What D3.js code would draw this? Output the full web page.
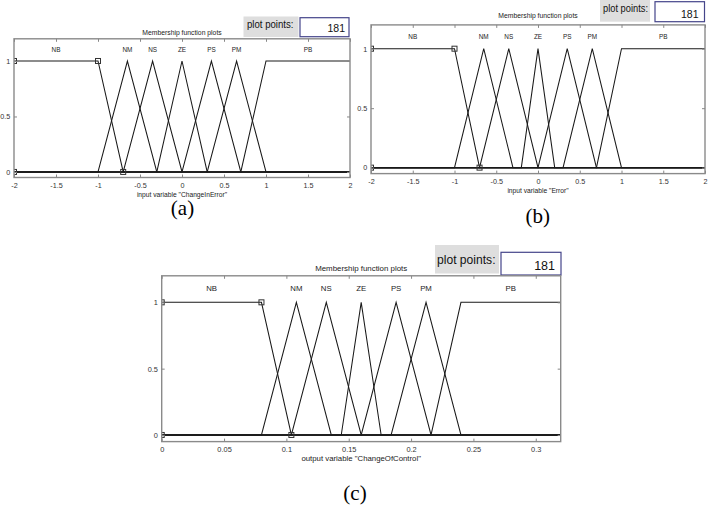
<!DOCTYPE html>
<html>
<head>
<meta charset="utf-8">
<script src="https://cdn.jsdelivr.net/npm/d3@7"></script>
<style>
  html, body { margin: 0; padding: 0; background: #fff; }
  svg { display: block; }
</style>
</head>
<body>
<svg id="chart" width="708" height="507"></svg>
<script>
// ---------------- DATA ----------------
const mfNames = ["NB", "NM", "NS", "ZE", "PS", "PM", "PB"];
// (a) input variable "ChangeInError"
const mfParamsA = [[-2, -2, -1, -0.7], [-1, -0.65, -0.3], [-0.7, -0.35, 0], [-0.3, 0, 0.3], [0, 0.35, 0.7], [0.3, 0.65, 1], [0.7, 1, 2, 2]];
// (b) input variable "Error"
const mfParamsB = [[-2, -2, -1, -0.7], [-1, -0.65, -0.3], [-0.7, -0.35, 0], [-0.2, 0, 0.2], [0, 0.35, 0.7], [0.3, 0.65, 1], [0.7, 1, 2, 2]];
// (c) output variable "ChangeOfControl"
const mfParamsC = [[0, 0, 0.08, 0.104], [0.08, 0.108, 0.136], [0.104, 0.132, 0.16], [0.144, 0.16, 0.176], [0.16, 0.188, 0.216], [0.184, 0.212, 0.24], [0.216, 0.24, 0.32, 0.32]];
const rangeAB = [-2, 2];
const rangeC = [0, 0.32];
const xTicksAB = [-2, -1.5, -1, -0.5, 0, 0.5, 1, 1.5, 2];
const xTickLabelsAB = ["-2", "-1.5", "-1", "-0.5", "0", "0.5", "1", "1.5", "2"];
const xTicksC = [0, 0.05, 0.1, 0.15, 0.2, 0.25, 0.3];
const xTickLabelsC = ["0", "0.05", "0.1", "0.15", "0.2", "0.25", "0.3"];
const yTicks = [0, 0.5, 1];
const yTickLabels = ["0", "0.5", "1"];
const yDomain = [-0.05, 1.2];
const plotPoints = "181";
const titleText = "Membership function plots";
const xLabels = ['input variable "ChangeInError"', 'input variable "Error"', 'output variable "ChangeOfControl"'];
const captions = ["(a)", "(b)", "(c)"];

// ---------------- LAYOUT ----------------
const panels = [
  { params: mfParamsA, range: rangeAB, ticks: xTicksAB, tickLabels: xTickLabelsAB, xlabel: xLabels[0], caption: captions[0],
    box: { l: 14, r: 350, t: 38.8, b: 177.5 }, fs: { title: 6.8, tick: 7.2, mf: 6.4, xl: 6.7 },
    pp: { gx: 243.5, gy: 16.5, gw: 55, gh: 20.5, tx: 247, ty: 28.3, tw: 46.5, tfs: 10.5, wx: 300, wy: 17.7, ww: 49, wh: 19, nx: 345, ny: 32.3, nfs: 10.5 },
    titleY: 34.5, cap: { x: 182.5, y: 215 } },
  { params: mfParamsB, range: rangeAB, ticks: xTicksAB, tickLabels: xTickLabelsAB, xlabel: xLabels[1], caption: captions[1],
    box: { l: 371, r: 705, t: 24.9, b: 173.6 }, fs: { title: 6.8, tick: 7.2, mf: 6.4, xl: 6.7 },
    pp: { gx: 600, gy: 0, gw: 50, gh: 21.7, tx: 603, ty: 11.5, tw: 45, tfs: 10.5, wx: 655, wy: 1.7, ww: 49.5, wh: 20, nx: 698.5, ny: 18.3, nfs: 10.5 },
    titleY: 18, cap: { x: 537.7, y: 223 } },
  { params: mfParamsC, range: rangeC, ticks: xTicksC, tickLabels: xTickLabelsC, xlabel: xLabels[2], caption: captions[2],
    box: { l: 161.7, r: 560.7, t: 275.8, b: 441.6 }, fs: { title: 7.9, tick: 7.4, mf: 7.8, xl: 7.8 },
    pp: { gx: 435, gy: 245, gw: 64, gh: 28.5, tx: 437, ty: 263.5, tw: 58.5, tfs: 12.5, wx: 501, wy: 252.3, ww: 60, wh: 22.7, nx: 555, ny: 269.5, nfs: 12.5 },
    titleY: 271, cap: { x: 355, y: 500 } }
];

const svg = d3.select("#chart");
const sansFont = "Arial, 'Liberation Sans', sans-serif";
const serifFont = "'Times New Roman', 'Liberation Serif', serif";

function mu(p, x) {
  let a, b, c, d;
  if (p.length === 3) { a = p[0]; b = p[1]; c = p[1]; d = p[2]; }
  else { [a, b, c, d] = p; }
  let left = (b === a) ? (x >= a ? 1 : 0) : (x - a) / (b - a);
  let right = (d === c) ? (x <= d ? 1 : 0) : (d - x) / (d - c);
  return Math.max(0, Math.min(left, 1, right));
}

panels.forEach((P, idx) => {
  const g = svg.append("g");
  const x = d3.scaleLinear().domain(P.range).range([P.box.l, P.box.r]);
  const y = d3.scaleLinear().domain(yDomain).range([P.box.b, P.box.t]);

  const clipId = "clip" + idx;
  g.append("clipPath").attr("id", clipId).append("rect")
    .attr("x", P.box.l).attr("y", P.box.t)
    .attr("width", P.box.r - P.box.l).attr("height", P.box.b - P.box.t);

  // "plot points" widget
  g.append("rect").attr("x", P.pp.gx).attr("y", P.pp.gy).attr("width", P.pp.gw).attr("height", P.pp.gh)
    .attr("fill", "#dedede");
  g.append("text").attr("x", P.pp.tx).attr("y", P.pp.ty)
    .attr("font-family", sansFont).attr("font-size", P.pp.tfs).attr("fill", "#111")
    .attr("textLength", P.pp.tw).attr("lengthAdjust", "spacingAndGlyphs")
    .text("plot points:");
  g.append("rect").attr("x", P.pp.wx).attr("y", P.pp.wy).attr("width", P.pp.ww).attr("height", P.pp.wh)
    .attr("fill", "#fff").attr("stroke", "#45458a").attr("stroke-width", 1.2);
  g.append("text").attr("x", P.pp.nx).attr("y", P.pp.ny).attr("text-anchor", "end")
    .attr("font-family", sansFont).attr("font-size", P.pp.nfs).attr("fill", "#111")
    .text(plotPoints);

  // title
  g.append("text").attr("x", (P.box.l + P.box.r) / 2).attr("y", P.titleY)
    .attr("text-anchor", "middle").attr("font-family", sansFont).attr("font-size", P.fs.title).attr("fill", "#222")
    .text(titleText);

  // MF lines
  const line = d3.line().x(d => x(d[0])).y(d => y(d[1]));
  const plotG = g.append("g").attr("clip-path", `url(#${clipId})`);
  P.params.forEach((p) => {
    const xs = Array.from(new Set([P.range[0], ...p, P.range[1]])).sort((a, b) => a - b);
    const pts = [];
    xs.forEach(xv => {
      // handle vertical edges at domain bounds for shoulders
      pts.push([xv, mu(p, xv)]);
    });
    plotG.append("path").attr("d", line(pts))
      .attr("fill", "none").attr("stroke", "#1a1a1a").attr("stroke-width", 1.05);
  });

  // markers on the selected MF (NB)
  const sel = P.params[0];
  const markerPts = [[sel[0], 0], [sel[1], 1], [sel[2], 1], [sel[3], 0]];
  plotG.selectAll("rect.mk").data(markerPts).enter().append("rect")
    .attr("x", d => x(d[0]) - 2.5).attr("y", d => y(d[1]) - 2.5)
    .attr("width", 5).attr("height", 5)
    .attr("fill", "none").attr("stroke", "#333").attr("stroke-width", 1);

  // MF labels
  P.params.forEach((p, i) => {
    const peak = p.length === 3 ? p[1] : (p[1] + p[2]) / 2;
    g.append("text").attr("x", x(peak)).attr("y", y(1.1) + 2)
      .attr("text-anchor", "middle").attr("font-family", sansFont).attr("font-size", P.fs.mf).attr("fill", "#222")
      .text(mfNames[i]);
  });

  // axes box
  g.append("rect").attr("x", P.box.l).attr("y", P.box.t)
    .attr("width", P.box.r - P.box.l).attr("height", P.box.b - P.box.t)
    .attr("fill", "none").attr("stroke", "#8a8a8a").attr("stroke-width", 1.4);

  // x ticks (bottom & top, inward)
  const xAxisB = d3.axisBottom(x).tickValues(P.ticks).tickSize(-3).tickPadding(6)
    .tickFormat((d, i) => P.tickLabels[i]);
  const gxb = g.append("g").attr("transform", `translate(0,${P.box.b})`).call(xAxisB);
  const xAxisT = d3.axisTop(x).tickValues(P.ticks).tickSize(-3).tickFormat("");
  const gxt = g.append("g").attr("transform", `translate(0,${P.box.t})`).call(xAxisT);
  // y ticks (left & right, inward)
  const yAxisL = d3.axisLeft(y).tickValues(yTicks).tickSize(-3).tickPadding(3)
    .tickFormat((d, i) => yTickLabels[i]);
  const gyl = g.append("g").attr("transform", `translate(${P.box.l},0)`).call(yAxisL);
  const yAxisR = d3.axisRight(y).tickValues(yTicks).tickSize(-3).tickFormat("");
  const gyr = g.append("g").attr("transform", `translate(${P.box.r},0)`).call(yAxisR);

  [gxb, gxt, gyl, gyr].forEach(ax => {
    ax.select(".domain").remove();
    ax.selectAll(".tick line").attr("stroke", "#888");
    ax.selectAll(".tick text").attr("font-family", sansFont).attr("font-size", P.fs.tick).attr("fill", "#333");
  });
  gxb.selectAll(".tick text").attr("dy", "0.6em");
  gyl.selectAll(".tick text").attr("dx", "-0.1em");

  // x label
  g.append("text").attr("x", (P.box.l + P.box.r) / 2).attr("y", P.box.b + 19)
    .attr("text-anchor", "middle").attr("font-family", sansFont).attr("font-size", P.fs.xl).attr("fill", "#222")
    .text(P.xlabel);

  // caption
  g.append("text").attr("x", P.cap.x).attr("y", P.cap.y)
    .attr("text-anchor", "middle").attr("font-family", serifFont).attr("font-size", 21).attr("fill", "#000")
    .text(P.caption);
});
</script>
</body>
</html>
